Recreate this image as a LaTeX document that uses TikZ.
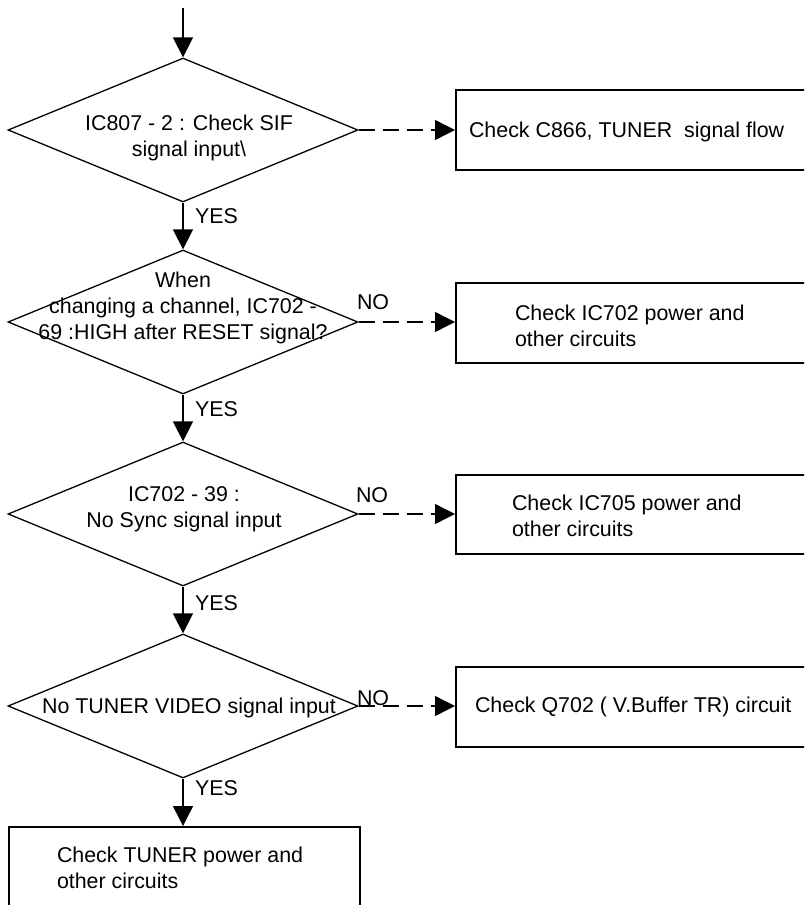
\documentclass[tikz,border=0pt]{standalone}
\usepackage{fontspec}
\setmainfont{Liberation Sans}
\usetikzlibrary{shapes.geometric,arrows.meta}
\begin{document}
\begin{tikzpicture}[x=1pt,y=-1pt,
  txt/.style={inner sep=0pt, outer sep=0pt, font=\fontsize{21.4pt}{26pt}\selectfont},
  dec/.style={diamond, draw, line width=1.3pt, inner sep=0pt, minimum width=350pt, minimum height=144pt},
  act/.style={rectangle, draw, line width=1.8pt, inner sep=0pt, anchor=north west},
  flow/.style={line width=1.4pt, -{Triangle[length=20pt,width=20pt]}},
  noflow/.style={flow, dash pattern=on 16pt off 8pt}]
\useasboundingbox (0,0) rectangle (804,905);
\clip (0,0) rectangle (804,905);

% decisions
\node[dec] (d1) at (183,130) {};
\node[dec] (d2) at (183,322) {};
\node[dec] (d3) at (183,514) {};
\node[dec] (d4) at (183,706) {};

% action boxes
\node[act, minimum width=380pt, minimum height=80pt] (b1) at (455,89) {};
\node[act, minimum width=380pt, minimum height=80pt] (b2) at (455,282) {};
\node[act, minimum width=380pt, minimum height=79pt] (b3) at (455,474) {};
\node[act, minimum width=380pt, minimum height=80pt] (b4) at (455,666) {};
\node[act, minimum width=351pt, minimum height=100pt] (b5) at (8,826) {};

% decision texts
\node[txt, align=center, anchor=north] (t1) at (189,115)
  {\fontsize{21.4pt}{27pt}\selectfont IC807 - 2 : Check SIF\\signal input\textbackslash};
\node[txt, align=center, anchor=north] (t2) at (183,272)
  {\fontsize{21.4pt}{25pt}\selectfont When\\changing a channel, IC702 -\\69 :HIGH after RESET signal?};
\node[txt, align=center, anchor=north] (t3) at (184,487)
  {\fontsize{21.4pt}{24.5pt}\selectfont IC702 - 39 :\\No Sync signal input};
\node[txt, anchor=base] (t4) at (189,713) {No TUNER VIDEO signal input};

% box texts
\node[txt, anchor=base west] (u1) at (469,137) {Check C866, TUNER\ \ signal flow};
\node[txt, align=left, anchor=north west] (u2) at (515,305)
  {\fontsize{21.4pt}{26pt}\selectfont Check IC702 power and\\other circuits};
\node[txt, align=left, anchor=north west] (u3) at (512,495)
  {\fontsize{21.4pt}{22pt}\selectfont Check IC705 power and\\other circuits};
\node[txt, anchor=base west] (u4) at (475,712) {Check Q702 ( V.Buffer TR) circuit};
\node[txt, align=left, anchor=north west] (u5) at (57,847)
  {\fontsize{21.4pt}{26pt}\selectfont Check TUNER power and\\other circuits};

% labels
\node[txt, anchor=base west] (y1) at (195,223) {YES};
\node[txt, anchor=base west] (y2) at (195,416) {YES};
\node[txt, anchor=base west] (y3) at (195,610) {YES};
\node[txt, anchor=base west] (y4) at (195,795) {YES};
\node[txt, anchor=base west] (n2) at (357,309) {NO};
\node[txt, anchor=base west] (n3) at (356,502) {NO};
\node[txt, anchor=base west] (n4) at (357,705) {NO};

% connectors
\coordinate (start) at (183,8);
\draw[flow] (start) -- (d1.north);
\draw[flow] (d1.south) -- (d2.north);
\draw[flow] (d2.south) -- (d3.north);
\draw[flow] (d3.south) -- (d4.north);
\draw[flow] (d4.south) -- (b5.north -| d4.south);
\draw[noflow] (d1.east) -- (d1.east -| b1.west);
\draw[noflow] (d2.east) -- (d2.east -| b2.west);
\draw[noflow] (d3.east) -- (d3.east -| b3.west);
\draw[noflow] (d4.east) -- (d4.east -| b4.west);
\end{tikzpicture}
\end{document}
